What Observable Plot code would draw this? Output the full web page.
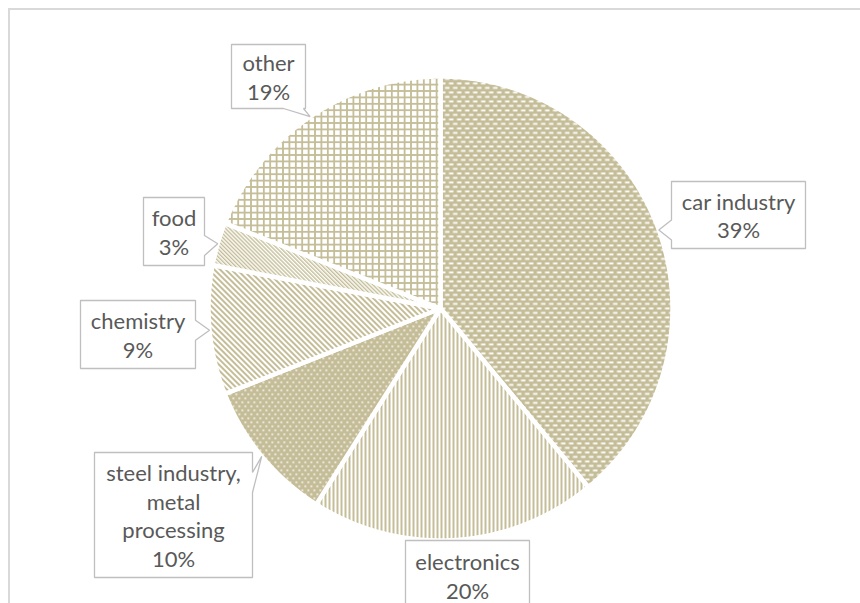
<!DOCTYPE html>
<html><head><meta charset="utf-8">
<script src="https://cdn.jsdelivr.net/npm/d3@7"></script>
<script src="https://cdn.jsdelivr.net/npm/@observablehq/plot@0.6"></script>
<style>
html,body{margin:0;padding:0;background:#fff;overflow:hidden;}
#wrap{position:relative;width:860px;height:603px;overflow:hidden;}
#frame{position:absolute;left:8px;top:8px;width:900px;height:700px;border-left:2px solid #d9d9d9;border-top:2px solid #d9d9d9;}
#chart{position:absolute;left:0;top:0;}
</style></head><body>
<div id="wrap"><div id="frame"></div><div id="chart"></div></div>
<script>
// ---- data ----
const categories = ["car industry", "electronics", "steel industry,\nmetal\nprocessing", "chemistry", "food", "other"];
const shares = [39, 20, 10, 9, 3, 19];
const patternIds = ["car", "elec", "steel", "chem", "food", "other"];

// ---- layout ----
const W = 860, H = 603, CX = 440, CY = 308, R = 232;
const boxes = [
  {cx: 738, cy: 214.5, w: 134, h: 67},
  {cx: 467, cy: 575, w: 124, h: 70},
  {cx: 173, cy: 514.5, w: 158, h: 125, base: 482},
  {cx: 137.5, cy: 334, w: 115, h: 68},
  {cx: 173.5, cy: 231, w: 61, h: 68, base: 245},
  {cx: 268, cy: 76, w: 74, h: 64}
];
const TAN = "#C4BD97";

const arcs = d3.pie().sort(null).value(d => d)(shares);
const pt = (a, r) => ({x: CX + r * Math.sin(a), y: CY - r * Math.cos(a)});

const slices = arcs.map((a, i) => {
  const pts = [{x: CX, y: CY}];
  const n = Math.max(2, Math.ceil((a.endAngle - a.startAngle) / (Math.PI / 360)));
  for (let k = 0; k <= n; k++) pts.push(pt(a.startAngle + (a.endAngle - a.startAngle) * k / n, R));
  pts.push({x: CX, y: CY});
  return pts.map(p => ({...p, k: i}));
});

function callout(b, tip) {
  const x0 = b.cx - b.w / 2, x1 = b.cx + b.w / 2, y0 = b.cy - b.h / 2, y1 = b.cy + b.h / 2;
  const dx = tip.x < x0 ? x0 - tip.x : tip.x > x1 ? tip.x - x1 : 0;
  const dy = tip.y < y0 ? y0 - tip.y : tip.y > y1 ? tip.y - y1 : 0;
  let side = null;
  if (Math.max(dx, dy) > 3) side = dx >= dy ? (tip.x < x0 ? "left" : "right") : (tip.y < y0 ? "top" : "bottom");
  const hw = 10;
  const cl = (v, lo, hi) => Math.max(lo + 12, Math.min(hi - 12, v));
  const P = [];
  P.push({x: x0, y: y0});
  if (side === "top") { const c = cl(b.base ?? tip.x, x0, x1); P.push({x: c - hw, y: y0}, tip, {x: c + hw, y: y0}); }
  P.push({x: x1, y: y0});
  if (side === "right") { const c = cl(b.base ?? tip.y, y0, y1); P.push({x: x1, y: c - hw}, tip, {x: x1, y: c + hw}); }
  P.push({x: x1, y: y1});
  if (side === "bottom") { const c = cl(b.base ?? tip.x, x0, x1); P.push({x: c + hw, y: y1}, tip, {x: c - hw, y: y1}); }
  P.push({x: x0, y: y1});
  if (side === "left") { const c = cl(b.base ?? tip.y, y0, y1); P.push({x: x0, y: c + hw}, tip, {x: x0, y: c - hw}); }
  P.push({x: x0, y: y0});
  return P;
}

const callouts = arcs.map((a, i) => callout(boxes[i], pt((a.startAngle + a.endAngle) / 2, R)).map(p => ({...p, k: i})));
const labels = categories.map((c, i) => ({x: boxes[i].cx, y: boxes[i].cy, text: `${c}\n${shares[i]}%`}));

const chart = Plot.plot({
  width: W, height: H,
  margin: 0,
  x: {domain: [0, W], range: [0, W], axis: null},
  y: {domain: [0, H], range: [0, H], axis: null},
  marks: [
    ...slices.map((s, i) => Plot.line(s, {x: "x", y: "y", fill: `url(#pat-${patternIds[i]})`, stroke: "white", strokeWidth: 4.5, strokeLinejoin: "round", curve: "linear"})),
    ...callouts.map(c => Plot.line(c, {x: "x", y: "y", fill: "white", stroke: "#BFBFBF", strokeWidth: 1.3, strokeLinejoin: "miter", curve: "linear"})),
    Plot.text(labels, {x: "x", y: "y", text: "text", fill: "#595959", fontSize: 22, lineHeight: 1.3, fontFamily: "Lato", lineAnchor: "middle"})
  ]
});

// patterns
const svg = d3.select(chart);
const defs = svg.insert("defs", ":first-child");
function pat(id, w, h, draw, transform) {
  const p = defs.append("pattern").attr("id", "pat-" + id).attr("patternUnits", "userSpaceOnUse").attr("width", w).attr("height", h);
  if (transform) p.attr("patternTransform", transform);
  draw(p);
}
pat("car", 8, 9, p => {
  p.append("rect").attr("width", 8).attr("height", 9).attr("fill", TAN);
  p.append("rect").attr("x", 0.5).attr("y", 1).attr("width", 4.5).attr("height", 1.8).attr("fill", "white");
  p.append("rect").attr("x", 4.5).attr("y", 5.5).attr("width", 4.5).attr("height", 1.8).attr("fill", "white");
  p.append("rect").attr("x", -3.5).attr("y", 5.5).attr("width", 4.5).attr("height", 1.8).attr("fill", "white");
});
pat("elec", 4, 4, p => {
  p.append("rect").attr("width", 4).attr("height", 4).attr("fill", "white");
  p.append("rect").attr("width", 2).attr("height", 4).attr("fill", TAN);
});
pat("steel", 6, 8, p => {
  p.append("rect").attr("width", 6).attr("height", 8).attr("fill", TAN);
  p.append("rect").attr("x", 1).attr("y", 1).attr("width", 1.6).attr("height", 1.6).attr("fill", "white");
  p.append("rect").attr("x", 4).attr("y", 5).attr("width", 1.6).attr("height", 1.6).attr("fill", "white");
});
pat("chem", 4, 4, p => {
  p.append("rect").attr("width", 4).attr("height", 4).attr("fill", "white");
  p.append("rect").attr("width", 2).attr("height", 4).attr("fill", TAN);
}, "rotate(-45)");
pat("food", 2.8, 4, p => {
  p.append("rect").attr("width", 2.8).attr("height", 4).attr("fill", "white");
  p.append("rect").attr("width", 1.4).attr("height", 4).attr("fill", TAN);
}, "rotate(-45)");
pat("other", 6.4, 6.4, p => {
  p.append("rect").attr("width", 6.4).attr("height", 6.4).attr("fill", "white");
  p.append("rect").attr("width", 1.8).attr("height", 6.4).attr("fill", TAN);
  p.append("rect").attr("width", 6.4).attr("height", 1.8).attr("fill", TAN);
});

document.getElementById("chart").appendChild(chart);
</script>
</body></html>
